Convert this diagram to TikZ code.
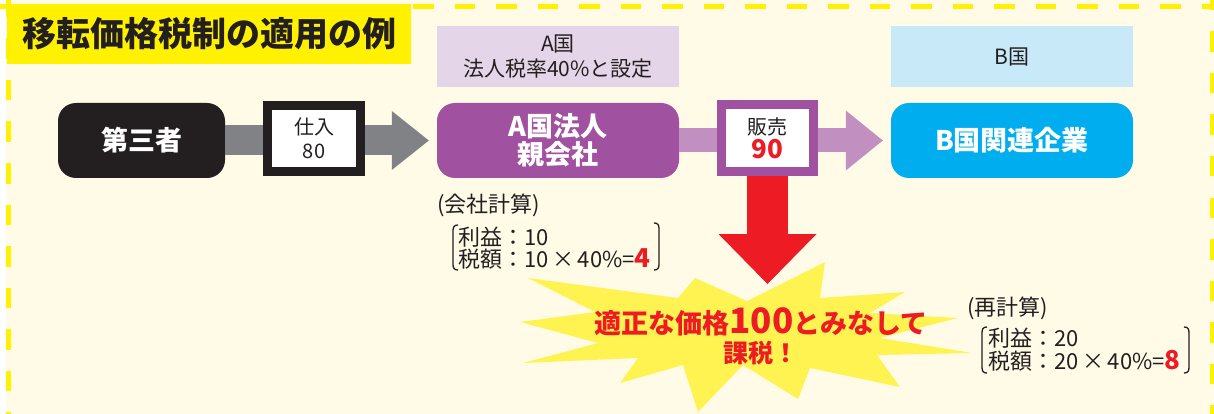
\documentclass[tikz,border=0pt]{standalone}
\usepackage{fontspec}
\setmainfont{Noto Sans CJK JP}
\usetikzlibrary{arrows.meta}
\definecolor{cream}{HTML}{FFFBE7}
\definecolor{ttlyellow}{HTML}{FFF100}
\definecolor{txt}{HTML}{231F20}
\definecolor{arrgray}{HTML}{808285}
\definecolor{purp}{HTML}{A0519F}
\definecolor{lpurp}{HTML}{C190C1}
\definecolor{labpurp}{HTML}{E5D5E8}
\definecolor{cyanbox}{HTML}{00AEEF}
\definecolor{labblue}{HTML}{C7E9F8}
\definecolor{redc}{HTML}{ED1C24}
\definecolor{burst}{HTML}{FFF352}
\begin{document}
\begin{tikzpicture}[x=1pt,y=-1pt,
  bigbox/.style={rounded corners=18pt, minimum height=75pt, inner sep=0pt, align=center,
     text=white, font=\bfseries\fontsize{27}{28}\selectfont},
  labelbox/.style={minimum width=242pt, minimum height=61pt, inner sep=0pt, align=center,
     text=txt, font=\fontsize{21}{25}\selectfont},
  pricebox/.style={draw, line width=9pt, fill=white, inner sep=0pt, align=center,
     text=txt, font=\fontsize{20}{24}\selectfont},
  calctext/.style={anchor=west, inner sep=0pt, text=txt, font=\fontsize{22}{22}\selectfont},
  bracketline/.style={draw=txt, line width=1.3pt},
  borderdash/.style={draw=ttlyellow, line width=5pt, dash pattern=on 20.5pt off 21pt}
]
\useasboundingbox (0,0) rectangle (1214,414);
% background
\fill[white] (0,0) rectangle (1214,414);
\fill[cream] (6,0) rectangle (1214,414);
% dashed border
\draw[borderdash] (8.5,-3) -- (8.5,420);
\draw[borderdash] (-2,6.5) -- (1216,6.5);
\draw[borderdash] (1212.5,-10) -- (1212.5,420);
% title
\node[fill=ttlyellow, minimum width=404pt, minimum height=60pt, inner sep=0pt,
      text=txt, font=\bfseries\fontsize{34}{34}\selectfont] (title) at (209,34) {移転価格税制の適用の例};
% country labels
\node[labelbox, fill=labpurp] (labA) at (558,56.5) {A国\\法人税率40\%と設定};
\node[labelbox, fill=labblue] (labB) at (1012,56.5) {B国};
% main boxes
\node[bigbox, fill=txt, minimum width=167pt] (third) at (141.5,140.5) {第三者};
\node[bigbox, fill=purp, minimum width=242pt] (parent) at (558,140.5) {A国法人\\親会社};
\node[bigbox, fill=cyanbox, minimum width=242pt] (sub) at (1012,140.5) {B国関連企業};
% arrows
\draw[arrgray, line width=30pt, shorten >=8pt,
      -{Triangle[length=37pt,width=59pt,line width=0pt]}] (third.east) -- (parent.west);
\draw[lpurp, line width=24pt, shorten >=8pt,
      -{Triangle[length=37pt,width=60pt,line width=0pt]}] (parent.east) -- (sub.west);
% price boxes
\node[pricebox, draw=txt, minimum width=93pt, minimum height=66pt] (buy) at (314,138.5) {仕入\\80};
\node[pricebox, draw=purp, minimum width=92pt, minimum height=67pt] (sale) at (767.5,138)
   {販売\\{\color{redc}\bfseries\fontsize{26}{24}\selectfont 90}};
% starburst
\fill[burst] (528,278) -- (678,298) -- (695,278) -- (747,301) -- (825,262) -- (820,298)
  -- (905,292) -- (870,313) -- (958,318) -- (880,338) -- (972,353) -- (877,355)
  -- (900,387) -- (810,368) -- (798,399) -- (743,365) -- (698,412) -- (683,365)
  -- (620,383) -- (638,358) -- (523,363) -- (598,343) -- (520,322) -- (595,312) -- cycle;
\node[inner sep=0pt, align=center, text=redc, font=\bfseries\fontsize{27}{29}\selectfont] (verdict) at (761,336)
  {適正な価格{\fontsize{35}{29}\selectfont 100}とみなして\\{\fontsize{25}{29}\selectfont 課税！}};
% red arrow
\coordinate (redtip) at (767.5,284);
\draw[redc, line width=41pt, -{Triangle[length=50pt,width=98pt,line width=0pt]}] (sale.south) -- (redtip);
% company calculation
\node[calctext] (calcA) at (437,205) {(会社計算)};
\node[calctext] (profA) at (458,237) {利益：10};
\node[calctext] (taxA) at (458,259) {税額：10\,×\,40\%={\color{redc}\bfseries\fontsize{26}{22}\selectfont 4}};
\draw[bracketline] (458,225) .. controls (454,225) and (453,227) .. (453,231) -- (453,264)
   .. controls (453,268) and (454,270) .. (458,270);
\draw[bracketline] (654,223) .. controls (658,223) and (659,225) .. (659,229) -- (659,264)
   .. controls (659,268) and (658,270) .. (654,270);
% recalculation
\node[calctext] (calcB) at (967,308) {(再計算)};
\node[calctext] (profB) at (988,338) {利益：20};
\node[calctext] (taxB) at (988,361) {税額：20\,×\,40\%={\color{redc}\bfseries\fontsize{26}{22}\selectfont 8}};
\draw[bracketline] (987,327) .. controls (983,327) and (982,329) .. (982,333) -- (982,367)
   .. controls (982,371) and (983,373) .. (987,373);
\draw[bracketline] (1184,327) .. controls (1188,327) and (1189,329) .. (1189,333) -- (1189,367)
   .. controls (1189,371) and (1188,373) .. (1184,373);
\end{tikzpicture}
\end{document}
